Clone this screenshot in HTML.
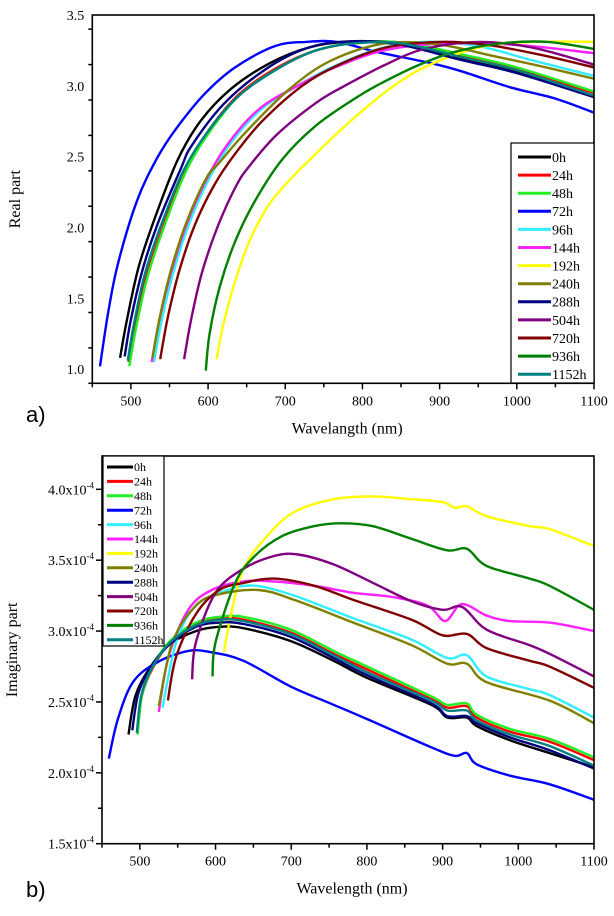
<!DOCTYPE html>
<html><head><meta charset="utf-8">
<style>
html,body{margin:0;padding:0;background:#fff;}
svg{display:block;}
svg text{font-family:"Liberation Serif","DejaVu Serif",serif;}
svg text.panel{font-family:"Liberation Sans","DejaVu Sans",sans-serif;}
</style></head>
<body>
<svg id="fig" width="614" height="916" viewBox="0 0 614 916" xmlns="http://www.w3.org/2000/svg" font-family="Liberation Serif, serif">
<g id="chartA"></g>
<g id="chartB"></g>
</svg>
<script>
const seriesNames = ["0h","24h","48h","72h","96h","144h","192h","240h","288h","504h","720h","936h","1152h"];
const seriesColors = ["#000000","#ff0000","#22ee22","#0000ff","#33eeff","#ff22ff","#ffff00","#808000","#000080","#800080","#800000","#008000","#008080"];

// Chart a) real part: wavelength (nm) and values
const realX_0h = [486,495,510,530,560,590,630,680,730,780,850,930,1000,1100];
const realY_0h = [1.08,1.35,1.72,2.05,2.47,2.75,2.98,3.16,3.27,3.31,3.29,3.19,3.10,2.93];
const realX_24h = [497,505,520,540,570,600,640,690,740,800,860,930,1000,1100];
const realY_24h = [1.05,1.30,1.65,1.98,2.40,2.68,2.94,3.13,3.25,3.31,3.30,3.21,3.12,2.95];
const realX_48h = [498,506,520,540,570,600,640,690,740,800,860,930,1000,1100];
const realY_48h = [1.02,1.27,1.62,1.96,2.38,2.66,2.93,3.12,3.25,3.31,3.30,3.22,3.13,2.96];
const realX_72h = [460,470,483,508,534,559,595,635,686,727,767,818,889,930,991,1050,1100];
const realY_72h = [1.02,1.38,1.74,2.19,2.49,2.70,2.94,3.13,3.28,3.31,3.31,3.24,3.16,3.10,2.99,2.91,2.81];
const realX_96h = [530,540,555,575,600,630,670,716,760,820,880,950,1020,1100];
const realY_96h = [1.05,1.35,1.68,2.02,2.33,2.60,2.84,3.00,3.13,3.26,3.31,3.28,3.18,3.07];
const realX_144h = [527,537,552,572,597,627,667,716,760,820,880,950,1020,1100];
const realY_144h = [1.05,1.35,1.68,2.02,2.33,2.60,2.84,3.00,3.12,3.24,3.29,3.30,3.28,3.23];
const realX_192h = [611,620,635,655,680,710,732,770,810,838,880,950,1020,1100];
const realY_192h = [1.07,1.32,1.62,1.92,2.17,2.36,2.48,2.68,2.87,2.99,3.13,3.27,3.31,3.31];
const realX_240h = [528,538,553,573,598,615,650,706,760,830,900,970,1030,1100];
const realY_240h = [1.08,1.38,1.72,2.05,2.35,2.46,2.68,2.98,3.18,3.30,3.29,3.21,3.14,3.05];
const realX_288h = [492,500,515,535,565,579,620,670,720,770,840,930,1000,1100];
const realY_288h = [1.09,1.35,1.70,2.03,2.42,2.58,2.87,3.10,3.25,3.31,3.30,3.18,3.09,2.92];
const realX_504h = [569,578,592,612,637,656,690,740,777,830,880,950,1020,1100];
const realY_504h = [1.07,1.35,1.68,2.00,2.30,2.45,2.66,2.88,3.00,3.15,3.26,3.31,3.27,3.15];
const realX_720h = [538,548,563,583,608,635,670,722,770,830,900,960,1030,1100];
const realY_720h = [1.07,1.37,1.70,2.02,2.30,2.52,2.75,3.00,3.15,3.27,3.31,3.29,3.22,3.13];
const realX_936h = [597,602,615,635,660,696,740,790,818,870,920,980,1040,1100];
const realY_936h = [0.99,1.25,1.58,1.90,2.18,2.48,2.72,2.91,3.00,3.14,3.24,3.30,3.31,3.26];
const realX_1152h = [496,504,518,538,568,600,640,690,740,790,850,930,1000,1100];
const realY_1152h = [1.06,1.32,1.67,2.00,2.40,2.68,2.93,3.12,3.25,3.30,3.30,3.20,3.11,2.93];

// Chart b) imaginary part (x1e-4)
const imagX_0h = [485,494,512,538,574,605,637,699,756,800,885,906,932,945,989,1041,1100];
const imagY_0h = [2.27,2.54,2.73,2.90,3.00,3.03,3.02,2.93,2.79,2.67,2.48,2.39,2.39,2.33,2.23,2.14,2.04];
const imagX_24h = [497,503,518,540,574,605,637,699,756,800,885,906,932,945,989,1041,1100];
const imagY_24h = [2.28,2.55,2.75,2.92,3.05,3.09,3.08,2.99,2.84,2.73,2.52,2.46,2.47,2.39,2.29,2.22,2.09];
const imagX_48h = [497,503,518,540,574,605,637,699,756,800,885,906,932,945,989,1041,1100];
const imagY_48h = [2.27,2.55,2.76,2.93,3.06,3.10,3.10,3.01,2.86,2.75,2.54,2.48,2.49,2.41,2.31,2.24,2.11];
const imagX_72h = [459,471,491,523,564,595,637,699,756,800,885,916,932,945,989,1041,1100];
const imagY_72h = [2.10,2.38,2.64,2.78,2.86,2.85,2.79,2.61,2.48,2.38,2.18,2.12,2.14,2.06,1.98,1.92,1.81];
const imagX_96h = [530,548,574,616,652,704,782,859,906,932,958,1015,1041,1100];
const imagY_96h = [2.46,2.92,3.18,3.29,3.32,3.25,3.09,2.94,2.81,2.83,2.68,2.59,2.55,2.39];
const imagX_144h = [525,538,564,595,637,678,730,782,834,880,903,921,934,958,989,1041,1100];
const imagY_144h = [2.43,2.82,3.15,3.29,3.35,3.35,3.32,3.27,3.24,3.18,3.07,3.18,3.18,3.11,3.07,3.06,3.00];
const imagX_192h = [611,621,637,668,704,756,808,859,900,916,932,958,1015,1041,1100];
const imagY_192h = [2.85,3.13,3.44,3.67,3.84,3.93,3.95,3.93,3.91,3.87,3.88,3.81,3.74,3.72,3.60];
const imagX_240h = [525,543,574,605,657,704,782,859,906,932,958,1041,1100];
const imagY_240h = [2.47,2.92,3.18,3.26,3.29,3.22,3.06,2.90,2.77,2.77,2.64,2.51,2.35];
const imagX_288h = [490,498,515,540,574,605,637,699,756,800,885,906,932,945,989,1041,1100];
const imagY_288h = [2.30,2.56,2.75,2.91,3.03,3.06,3.05,2.96,2.81,2.69,2.49,2.40,2.40,2.35,2.25,2.16,2.03];
const imagX_504h = [569,574,600,637,678,709,756,808,859,900,926,958,1015,1041,1100];
const imagY_504h = [2.66,2.92,3.27,3.44,3.53,3.54,3.47,3.34,3.21,3.15,3.17,3.01,2.90,2.84,2.68];
const imagX_720h = [537,548,574,605,637,678,730,782,859,900,932,958,1015,1041,1100];
const imagY_720h = [2.51,2.82,3.12,3.29,3.34,3.37,3.32,3.22,3.08,2.97,2.98,2.88,2.79,2.75,2.60];
const imagX_936h = [596,600,626,652,688,730,766,808,859,906,932,958,1015,1041,1100];
const imagY_936h = [2.68,2.92,3.34,3.53,3.67,3.74,3.76,3.74,3.65,3.57,3.58,3.46,3.37,3.32,3.15];
const imagX_1152h = [496,502,517,540,574,605,637,699,756,800,885,906,932,945,989,1041,1100];
const imagY_1152h = [2.28,2.55,2.75,2.92,3.04,3.08,3.07,2.98,2.83,2.71,2.51,2.44,2.44,2.37,2.27,2.19,2.05];

const realXTicks = [500,600,700,800,900,1000,1100];
const realYTicks = ["1.0","1.5","2.0","2.5","3.0","3.5"];
const imagYTicks = ["1.5","2.0","2.5","3.0","3.5","4.0"];

const realSeriesX = [realX_0h,realX_24h,realX_48h,realX_72h,realX_96h,realX_144h,realX_192h,realX_240h,realX_288h,realX_504h,realX_720h,realX_936h,realX_1152h];
const realSeriesY = [realY_0h,realY_24h,realY_48h,realY_72h,realY_96h,realY_144h,realY_192h,realY_240h,realY_288h,realY_504h,realY_720h,realY_936h,realY_1152h];
const imagSeriesX = [imagX_0h,imagX_24h,imagX_48h,imagX_72h,imagX_96h,imagX_144h,imagX_192h,imagX_240h,imagX_288h,imagX_504h,imagX_720h,imagX_936h,imagX_1152h];
const imagSeriesY = [imagY_0h,imagY_24h,imagY_48h,imagY_72h,imagY_96h,imagY_144h,imagY_192h,imagY_240h,imagY_288h,imagY_504h,imagY_720h,imagY_936h,imagY_1152h];

const NS = "http://www.w3.org/2000/svg";
const SERIF = "Liberation Serif, DejaVu Serif, serif";
function mk(tag, attrs, parent){
  const e = document.createElementNS(NS, tag);
  for (const k in attrs) e.setAttribute(k, attrs[k]);
  if (tag === "text" && !attrs["font-family"]) e.setAttribute("font-family", SERIF);
  parent.appendChild(e);
  return e;
}
function smoothPath(pts){
  let d = "M" + pts[0][0].toFixed(1) + "," + pts[0][1].toFixed(1);
  for (let i=0;i<pts.length-1;i++){
    const p0 = pts[Math.max(0,i-1)], p1 = pts[i], p2 = pts[i+1], p3 = pts[Math.min(pts.length-1,i+2)];
    const c1x = p1[0]+(p2[0]-p0[0])/6, c1y = p1[1]+(p2[1]-p0[1])/6;
    const c2x = p2[0]-(p3[0]-p1[0])/6, c2y = p2[1]-(p3[1]-p1[1])/6;
    d += " C"+c1x.toFixed(1)+","+c1y.toFixed(1)+" "+c2x.toFixed(1)+","+c2y.toFixed(1)+" "+p2[0].toFixed(1)+","+p2[1].toFixed(1);
  }
  return d;
}

function drawChart(g, cfg){
  const xs = v => cfg.x0 + (v-450)/(1100-450)*(cfg.x1-cfg.x0);
  const ys = v => cfg.y1 - (v-cfg.ymin)/(cfg.ymax-cfg.ymin)*(cfg.y1-cfg.y0);
  const clip = mk("clipPath",{id:cfg.id+"clip"},g);
  mk("rect",{x:cfg.x0,y:cfg.y0,width:cfg.x1-cfg.x0,height:cfg.y1-cfg.y0},clip);
  const lines = mk("g",{"clip-path":"url(#"+cfg.id+"clip)"},g);
  
  
  for (let s=0;s<seriesNames.length;s++){
    const pts = cfg.sx[s].map((xv,i)=>[xs(xv), ys(cfg.sy[s][i])]);
    const p = mk("path",{d:smoothPath(pts),fill:"none",stroke:seriesColors[s],"stroke-width":2.4,"stroke-linejoin":"round"},lines);
    
    
  }
  const fr = mk("rect",{x:cfg.x0,y:cfg.y0,width:cfg.x1-cfg.x0,height:cfg.y1-cfg.y0,fill:"none",stroke:"#000","stroke-width":1.6},g);
  
  
  const xa = mk("g",{},g);
  
  
  for (let v=450; v<=1100; v+=50){
    const X = xs(v), major = v%100===0;
    mk("line",{x1:X,x2:X,y1:cfg.y1,y2:cfg.y1+(major?6:4),stroke:"#000","stroke-width":1.5},xa);
  }
  realXTicks.forEach(v=>{
    const t = mk("text",{x:xs(v),y:cfg.y1+22,"text-anchor":"middle","font-size":14,fill:"#000"},xa);
    t.textContent = v;
    
    
  });
  const xt = mk("text",{x:(cfg.x0+cfg.x1)/2+4,y:cfg.y1+50,"text-anchor":"middle","font-size":16,fill:"#000"},g);
  xt.textContent = cfg.xtitle;
  
  
  const ya = mk("g",{},g);
  
  
  for (let v=cfg.ymin; v<=cfg.ymax+1e-9; v+=0.25){
    const major = Math.abs(Math.round(v*2)-v*2)<1e-6;
    const Y = ys(v);
    mk("line",{x1:cfg.x0,x2:cfg.x0-(major?6:4),y1:Y,y2:Y,stroke:"#000","stroke-width":1.5},ya);
  }
  cfg.yticks.forEach(lbl=>{
    const Y = ys(parseFloat(lbl));
    const t = mk("text",{x:cfg.x0-8,y:Y+5,"text-anchor":"end","font-size":14,fill:"#000"},ya);
    
    
    if (cfg.sup){
      t.textContent = lbl + "x10";
      const sp = mk("tspan",{dy:-6,"font-size":9},t);
      sp.textContent = "-4";
    } else t.textContent = lbl;
  });
  const yt = mk("text",{x:cfg.ytx,y:(cfg.y0+cfg.y1)/2,"text-anchor":"middle","font-size":16,fill:"#000",transform:"rotate(-90 "+cfg.ytx+" "+((cfg.y0+cfg.y1)/2)+")"},g);
  yt.textContent = cfg.ytitle;
  
  
  const pl = mk("text",{x:cfg.plx,y:cfg.ply,"font-size":22,"font-family":"Liberation Sans, DejaVu Sans, sans-serif",fill:"#000","class":"panel"},g);
  pl.textContent = cfg.panel;
  
  
  const L = cfg.leg;
  const lg = mk("g",{},g);
  
  
  mk("rect",{x:L.x,y:L.y,width:L.w,height:L.h,fill:"#fff",stroke:"#000","stroke-width":1.2},lg);
  seriesNames.forEach((n,i)=>{
    const Y = L.ey + i*L.step;
    const e = mk("g",{},lg);
    
    
    mk("line",{x1:L.lx0,x2:L.lx1,y1:Y,y2:Y,stroke:seriesColors[i],"stroke-width":3},e);
    const t = mk("text",{x:L.lx1+1,y:Y+L.fs*0.35,"font-size":L.fs,fill:"#000"},e);
    t.textContent = n;
  });
}

drawChart(document.getElementById("chartA"), {
  id:"a", x0:92.3, x1:594, y0:15, y1:383.3, ymin:0.9, ymax:3.5,
  sx:realSeriesX, sy:realSeriesY, yticks:realYTicks, sup:false,
  xtitle:"Wavelangth (nm)", ytitle:"Real part", ytx:20, panel:"a)", plx:26, ply:422,
  leg:{x:511,y:143,w:83,h:240,ey:157,step:18.1,lx0:518,lx1:551,fs:14}
});
drawChart(document.getElementById("chartB"), {
  id:"b", x0:102, x1:594, y0:456, y1:843.7, ymin:1.5, ymax:4.235,
  sx:imagSeriesX, sy:imagSeriesY, yticks:imagYTicks, sup:true,
  xtitle:"Wavelength (nm)", ytitle:"Imaginary part", ytx:17, panel:"b)", plx:26, ply:897,
  leg:{x:103,y:456,w:61,h:190,ey:467,step:14.4,lx0:107,lx1:133,fs:12}
});
</script>
</body></html>
